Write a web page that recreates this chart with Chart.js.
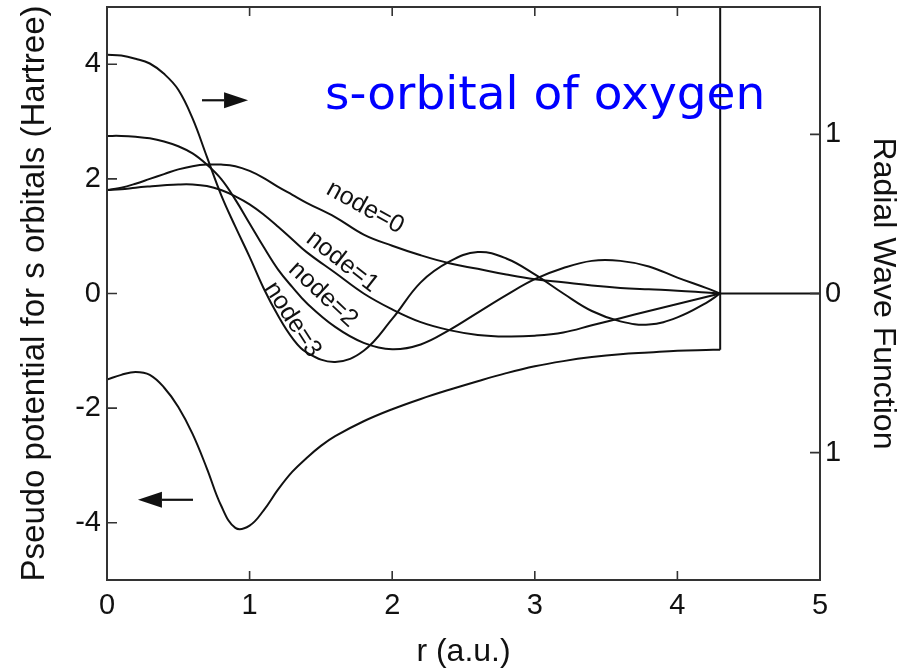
<!DOCTYPE html>
<html>
<head>
<meta charset="utf-8">
<script src="https://cdn.jsdelivr.net/npm/chart.js@4.4.0/dist/chart.umd.min.js"></script>
<style>
  html, body { margin: 0; padding: 0; background: #fff; }
  #wrap { width: 907px; height: 672px; }
</style>
</head>
<body>
<div id="wrap"><canvas id="chart"></canvas></div>
<script>
// radial wave functions (right axis), r in a.u.
const rWave = [0, 0.1, 0.2, 0.3, 0.4, 0.5, 0.6, 0.7, 0.8, 0.9, 1.0, 1.1, 1.2, 1.3, 1.4, 1.6, 1.8, 2.0, 2.2, 2.4, 2.6, 2.8, 3.0, 3.2, 3.4, 3.6, 3.8, 4.0, 4.2, 4.3];
const node0 = [0.65, 0.665, 0.69, 0.72, 0.75, 0.78, 0.80, 0.81, 0.81, 0.80, 0.77, 0.725, 0.67, 0.62, 0.57, 0.48, 0.37, 0.30, 0.24, 0.19, 0.155, 0.12, 0.09, 0.07, 0.05, 0.035, 0.026, 0.018, 0.006, 0];
const node1 = [0.65, 0.655, 0.665, 0.673, 0.68, 0.685, 0.685, 0.675, 0.65, 0.61, 0.56, 0.495, 0.42, 0.34, 0.26, 0.13, 0.0, -0.10, -0.18, -0.23, -0.26, -0.27, -0.265, -0.245, -0.20, -0.155, -0.11, -0.066, -0.022, 0];
const node2 = [0.99, 0.99, 0.985, 0.975, 0.955, 0.925, 0.88, 0.81, 0.72, 0.59, 0.44, 0.29, 0.15, 0.04, -0.06, -0.21, -0.31, -0.35, -0.32, -0.23, -0.12, -0.01, 0.09, 0.16, 0.205, 0.205, 0.17, 0.10, 0.035, 0];
const node3 = [1.50, 1.495, 1.475, 1.445, 1.38, 1.28, 1.10, 0.86, 0.62, 0.42, 0.23, 0.03, -0.14, -0.28, -0.37, -0.43, -0.36, -0.16, 0.07, 0.20, 0.26, 0.22, 0.12, 0.0, -0.11, -0.175, -0.195, -0.15, -0.06, 0];
const rTail = [4.3, 5];
const tail = [0, 0];

// pseudo potential (left axis, Hartree)
const rPot = [0, 0.1, 0.2, 0.3, 0.4, 0.5, 0.6, 0.7, 0.8, 0.9, 1.0, 1.1, 1.2, 1.3, 1.4, 1.5, 1.6, 1.8, 2.0, 2.2, 2.4, 2.6, 2.8, 3.0, 3.2, 3.4, 3.6, 3.8, 4.0, 4.2, 4.3];
const potential = [-1.50, -1.42, -1.37, -1.42, -1.64, -1.98, -2.45, -3.05, -3.70, -4.09, -4.05, -3.78, -3.42, -3.11, -2.87, -2.66, -2.49, -2.23, -2.02, -1.84, -1.68, -1.53, -1.39, -1.27, -1.18, -1.11, -1.06, -1.03, -1.00, -0.985, -0.98];
const rWall = [4.3, 4.3];
const wall = [-0.98, 5];

const nodeNames = ['node=0', 'node=1', 'node=2', 'node=3'];
// label anchor (r, wave value) and angle in degrees
const nodeLabelAt = [[1.81, 0.54, 29], [1.65, 0.20, 38], [1.515, -0.006, 43], [1.30, -0.164, 57]];

const titleText = 's-orbital of oxygen';
const FONT = "'Liberation Sans', Arial, sans-serif";

function pts(xs, ys) {
    return xs.map((x, i) => ({ x: x, y: ys[i] }));
}

function line(data, axis, tension) {
    return {
        data: data,
        yAxisID: axis,
        borderColor: '#111',
        borderWidth: 2,
        pointRadius: 0,
        fill: false,
        tension: tension
    };
}

// frame, inward ticks, arrows and text
const decor = {
    id: 'decor',
    afterDatasetsDraw(chart) {
        const { ctx, chartArea: a, scales } = chart;
        const x = scales.x, yL = scales.y, yR = scales.y1;
        ctx.save();
        ctx.strokeStyle = '#333';
        ctx.lineWidth = 2;
        ctx.strokeRect(a.left, a.top, a.right - a.left, a.bottom - a.top);

        ctx.lineWidth = 1.6;
        ctx.beginPath();
        x.ticks.forEach(t => {
            const px = x.getPixelForValue(t.value);
            const len = Number.isInteger(t.value) ? 9 : 5;
            ctx.moveTo(px, a.bottom); ctx.lineTo(px, a.bottom - len);
            ctx.moveTo(px, a.top); ctx.lineTo(px, a.top + len);
        });
        yL.ticks.forEach(t => {
            const py = yL.getPixelForValue(t.value);
            ctx.moveTo(a.left, py); ctx.lineTo(a.left + 10, py);
        });
        yR.ticks.forEach(t => {
            const py = yR.getPixelForValue(t.value);
            ctx.moveTo(a.right, py); ctx.lineTo(a.right - 10, py);
        });
        ctx.stroke();

        // arrows: which axis each curve family belongs to
        drawArrow(ctx, x.getPixelForValue(0.666), x.getPixelForValue(0.989), yR.getPixelForValue(1.214));
        drawArrow(ctx, x.getPixelForValue(0.603), x.getPixelForValue(0.217), yL.getPixelForValue(-3.60));

        // node labels
        ctx.fillStyle = '#111';
        ctx.font = '25px ' + FONT;
        ctx.textAlign = 'center';
        ctx.textBaseline = 'middle';
        nodeLabelAt.forEach((p, i) => {
            ctx.save();
            ctx.translate(x.getPixelForValue(p[0]), yR.getPixelForValue(p[1]));
            ctx.rotate(p[2] * Math.PI / 180);
            ctx.fillText(nodeNames[i], 0, 0);
            ctx.restore();
        });

        // blue title
        ctx.fillStyle = '#0000ff';
        ctx.font = "47px 'DejaVu Sans', Verdana, sans-serif";
        ctx.textAlign = 'left';
        ctx.textBaseline = 'alphabetic';
        ctx.fillText(titleText, x.getPixelForValue(1.529), yR.getPixelForValue(1.157));
        ctx.restore();
    }
};

function drawArrow(ctx, x0, x1, y) {
    const dir = Math.sign(x1 - x0);
    const head = 24, half = 8;
    ctx.strokeStyle = '#111';
    ctx.fillStyle = '#111';
    ctx.lineWidth = 2.2;
    ctx.beginPath();
    ctx.moveTo(x0, y);
    ctx.lineTo(x1 - dir * head, y);
    ctx.stroke();
    ctx.beginPath();
    ctx.moveTo(x1, y);
    ctx.lineTo(x1 - dir * head, y - half);
    ctx.lineTo(x1 - dir * head, y + half);
    ctx.closePath();
    ctx.fill();
}

const tickFont = { family: FONT, size: 29 };

new Chart(document.getElementById('chart'), {
    type: 'line',
    data: {
        datasets: [
            line(pts(rWave, node0), 'y1', 0.4),
            line(pts(rWave, node1), 'y1', 0.4),
            line(pts(rWave, node2), 'y1', 0.4),
            line(pts(rWave, node3), 'y1', 0.4),
            line(pts(rTail, tail), 'y1', 0),
            line(pts(rPot, potential), 'y', 0.4),
            line(pts(rWall, wall), 'y', 0)
        ]
    },
    options: {
        responsive: true,
        maintainAspectRatio: false,
        animation: false,
        layout: { padding: { top: 7, left: 0, right: 0, bottom: 0 } },
        plugins: {
            legend: { display: false },
            tooltip: { enabled: false }
        },
        scales: {
            x: {
                type: 'linear',
                min: 0,
                max: 5,
                grid: { display: false, drawTicks: false },
                border: { display: false },
                ticks: {
                    stepSize: 0.5,
                    autoSkip: false,
                    maxRotation: 0,
                    padding: 9,
                    color: '#111',
                    font: tickFont,
                    callback: v => Number.isInteger(v) ? String(v) : null
                },
                title: { display: true, text: 'r (a.u.)', color: '#111', font: { family: FONT, size: 32 }, padding: { top: 0, bottom: 1 } },
                afterFit: s => { s.height = 92; s.paddingLeft = 0; s.paddingRight = 0; }
            },
            y: {
                position: 'left',
                min: -5,
                max: 5,
                grid: { display: false, drawTicks: false },
                border: { display: false },
                ticks: {
                    stepSize: 1,
                    autoSkip: false,
                    padding: 6,
                    color: '#111',
                    font: tickFont,
                    callback: v => (v % 2 === 0 && Math.abs(v) < 5) ? String(v) : null
                },
                title: { display: true, text: 'Pseudo potential for s orbitals (Hartree)', color: '#111', font: { family: FONT, size: 33 }, padding: { top: 15, bottom: 0 } },
                afterFit: s => { s.width = 107; s.paddingTop = 0; s.paddingBottom = 0; }
            },
            y1: {
                position: 'right',
                min: -1.8,
                max: 1.8,
                grid: { display: false, drawTicks: false },
                border: { display: false },
                ticks: {
                    stepSize: 0.5,
                    includeBounds: false,
                    autoSkip: false,
                    padding: 5,
                    color: '#111',
                    font: tickFont,
                    // the reference prints the lower label without its sign
                    callback: v => v === 0 ? '0' : (Math.abs(v) === 1 ? '1' : null)
                },
                title: { display: true, text: 'Radial Wave Function', color: '#111', font: { family: FONT, size: 32 }, padding: { top: 5, bottom: 0 } },
                afterFit: s => { s.width = 87; s.paddingTop = 0; s.paddingBottom = 0; }
            }
        }
    },
    plugins: [decor]
});
</script>
</body>
</html>
